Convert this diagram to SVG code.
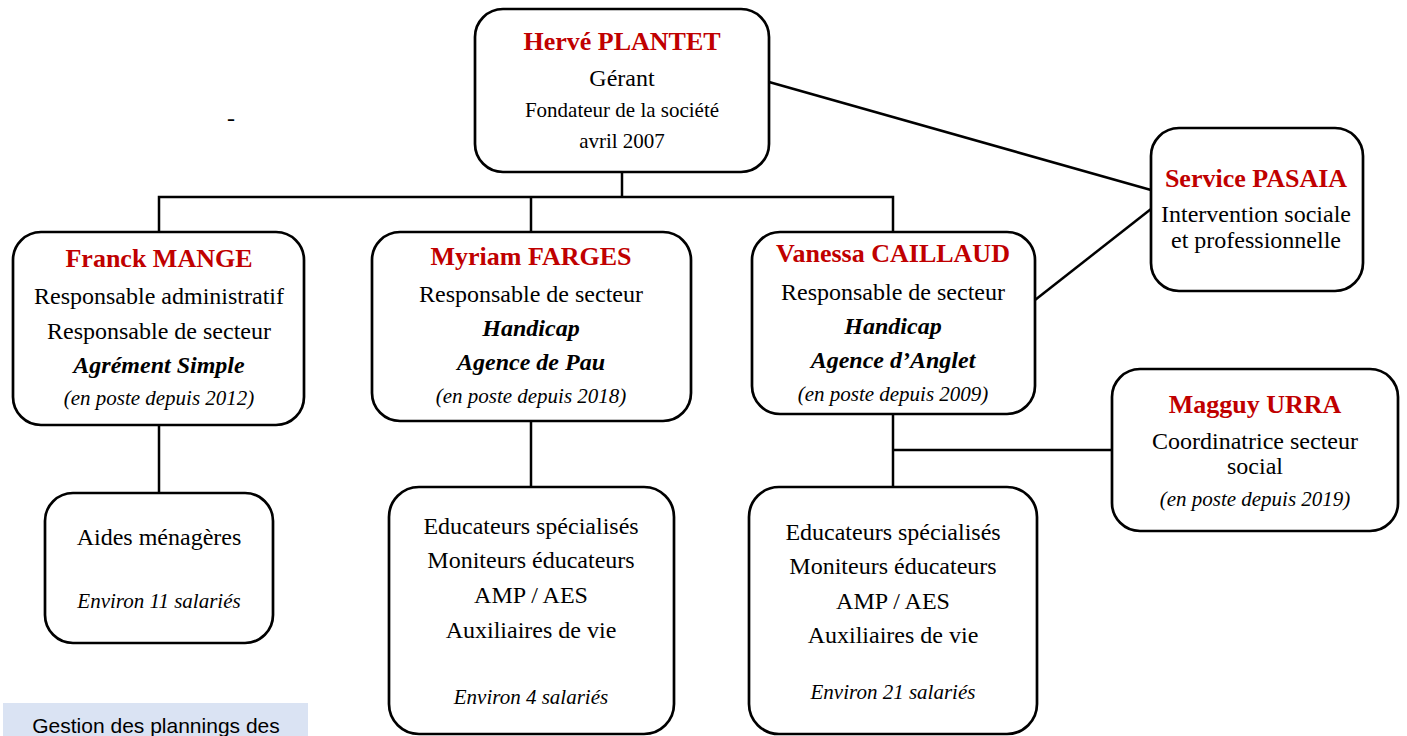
<svg xmlns="http://www.w3.org/2000/svg" width="1407" height="736" viewBox="0 0 1407 736">
<style>
.box{fill:#fff;stroke:#000;stroke-width:2.7}
.con{fill:none;stroke:#000;stroke-width:2.5}
text{font-family:"Liberation Serif","Times New Roman",serif;text-anchor:middle;fill:#000}
.name{font-size:26px;font-weight:bold;fill:#c00000}
.t24{font-size:24px}
.t21{font-size:21px}
.bi{font-size:24px;font-weight:bold;font-style:italic}
.it{font-size:21px;font-style:italic}
.cal{font-family:"Liberation Sans",Arial,sans-serif;font-size:21px}
</style>
<rect width="1407" height="736" fill="#fff"/>
<g id="connectors">
<polyline class="con" points="622,172 622,197"/>
<polyline class="con" points="159,232 159,197 893,197 893,232"/>
<polyline class="con" points="531,197 531,232"/>
<line class="con" x1="769" y1="82" x2="1151" y2="190"/>
<line class="con" x1="1035" y1="300" x2="1151" y2="209"/>
<line class="con" x1="159" y1="425" x2="159" y2="493"/>
<line class="con" x1="531" y1="421" x2="531" y2="487"/>
<line class="con" x1="893" y1="414" x2="893" y2="487"/>
<line class="con" x1="893" y1="450" x2="1112" y2="450"/>
</g>
<text class="t24" x="231" y="126">-</text>
<g id="herve">
<rect class="box" x="475" y="9" width="294" height="163" rx="28"/>
<text class="name" x="622" y="50">Hervé PLANTET</text>
<text class="t24" x="622" y="86">Gérant</text>
<text class="t21" x="622" y="117">Fondateur de la société</text>
<text class="t21" x="622" y="148">avril 2007</text>
</g>
<g id="franck">
<rect class="box" x="13" y="232" width="291" height="193" rx="28"/>
<text class="name" x="159" y="267">Franck MANGE</text>
<text class="t24" x="159" y="304">Responsable administratif</text>
<text class="t24" x="159" y="339">Responsable de secteur</text>
<text class="bi" x="159" y="373">Agrément Simple</text>
<text class="it" x="159" y="405">(en poste depuis 2012)</text>
</g>
<g id="myriam">
<rect class="box" x="372" y="232" width="319" height="189" rx="28"/>
<text class="name" x="531" y="265">Myriam FARGES</text>
<text class="t24" x="531" y="302">Responsable de secteur</text>
<text class="bi" x="531" y="336">Handicap</text>
<text class="bi" x="531" y="370">Agence de Pau</text>
<text class="it" x="531" y="403">(en poste depuis 2018)</text>
</g>
<g id="vanessa">
<rect class="box" x="752" y="232" width="283" height="182" rx="28"/>
<text class="name" x="893" y="262">Vanessa CAILLAUD</text>
<text class="t24" x="893" y="300">Responsable de secteur</text>
<text class="bi" x="893" y="334">Handicap</text>
<text class="bi" x="893" y="368">Agence d’Anglet</text>
<text class="it" x="893" y="401">(en poste depuis 2009)</text>
</g>
<g id="pasaia">
<rect class="box" x="1151" y="128" width="212" height="163" rx="28"/>
<text class="name" x="1256" y="187">Service PASAIA</text>
<text class="t24" x="1256" y="222">Intervention sociale</text>
<text class="t24" x="1256" y="248">et professionnelle</text>
</g>
<g id="magguy">
<rect class="box" x="1112" y="369" width="286" height="162" rx="28"/>
<text class="name" x="1255" y="413">Magguy URRA</text>
<text class="t24" x="1255" y="449">Coordinatrice secteur</text>
<text class="t24" x="1255" y="474">social</text>
<text class="it" x="1255" y="506">(en poste depuis 2019)</text>
</g>
<g id="aides">
<rect class="box" x="45" y="493" width="228" height="150" rx="28"/>
<text class="t24" x="159" y="545">Aides ménagères</text>
<text class="it" x="159" y="608">Environ 11 salariés</text>
</g>
<g id="staff-pau">
<rect class="box" x="389" y="487" width="285" height="247" rx="30"/>
<text class="t24" x="531" y="534">Educateurs spécialisés</text>
<text class="t24" x="531" y="568">Moniteurs éducateurs</text>
<text class="t24" x="531" y="603">AMP / AES</text>
<text class="t24" x="531" y="638">Auxiliaires de vie</text>
<text class="it" x="531" y="704">Environ 4 salariés</text>
</g>
<g id="staff-anglet">
<rect class="box" x="749" y="487" width="288" height="247" rx="30"/>
<text class="t24" x="893" y="540">Educateurs spécialisés</text>
<text class="t24" x="893" y="574">Moniteurs éducateurs</text>
<text class="t24" x="893" y="609">AMP / AES</text>
<text class="t24" x="893" y="643">Auxiliaires de vie</text>
<text class="it" x="893" y="699">Environ 21 salariés</text>
</g>
<g id="planning">
<rect x="3" y="703" width="305" height="40" fill="#dae3f3"/>
<text class="cal" x="156" y="733">Gestion des plannings des</text>
</g>
</svg>
